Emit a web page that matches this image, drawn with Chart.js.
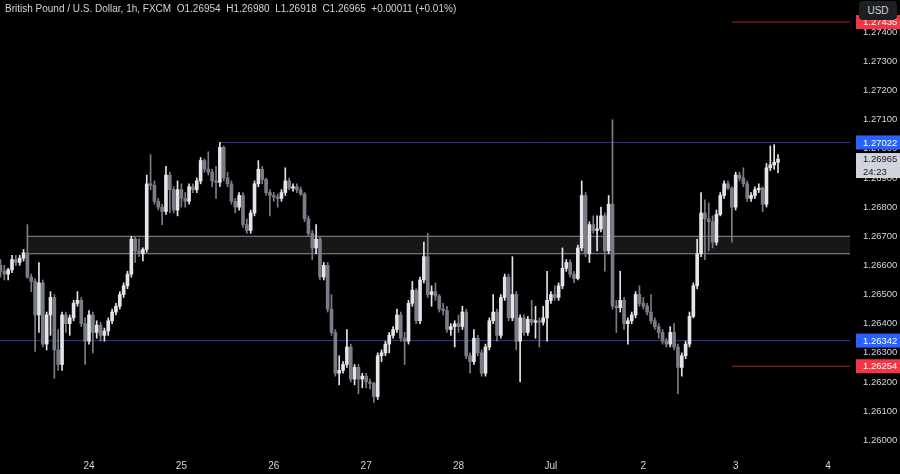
<!DOCTYPE html>
<html>
<head>
<meta charset="utf-8">
<title>British Pound / U.S. Dollar, 1h</title>
<script src="https://cdn.jsdelivr.net/npm/chart.js@4.4.1/dist/chart.umd.min.js"></script>
<style>
  html, body { margin: 0; padding: 0; background: #000; }
  #wrap { position: relative; width: 900px; height: 474px; overflow: hidden; }
  #legend { position: absolute; left: 5px; top: 3px; font: 10px 'Liberation Sans', Arial, sans-serif; color: #d1d4dc; white-space: pre; }
  #currency { position: absolute; left: 859px; top: 1px; width: 38px; height: 19px; border-radius: 4px; background: #1e1f23; color: #d1d4dc; font: 10px 'Liberation Sans', Arial, sans-serif; line-height: 19px; text-align: center; }
</style>
</head>
<body>
<div id="wrap">
  <canvas id="chart" width="900" height="474"></canvas>
  <div id="legend"></div>
  <div id="currency">USD</div>
</div>
<script>
// GBP/USD hourly candles, Jun 21 -> Jul 3 (weekend removed)
// hour 0 = Jun 24 00:00, first bar is hour -23
const firstHour = -23;

// [open, high, low, close]
const candles = [
  [1.2660,1.2662,1.2656,1.2658],[1.2658,1.2660,1.2655,1.2657],[1.2657,1.2659,1.2655,1.26585],[1.26585,1.26635,1.26575,1.2662],
  [1.2662,1.26635,1.2660,1.2661],[1.2661,1.26635,1.2660,1.26625],[1.26625,1.26655,1.26615,1.26643],[1.26643,1.2674,1.26555,1.2656],
  [1.2656,1.2657,1.2651,1.26545],[1.26545,1.26555,1.26305,1.2643],[1.2643,1.2661,1.2637,1.2654],[1.2654,1.2655,1.2632,1.2633],
  [1.2633,1.2644,1.2631,1.2643],[1.2643,1.2651,1.2636,1.2649],[1.2649,1.2650,1.26213,1.2631],[1.2631,1.2638,1.2624,1.2626],
  [1.2626,1.2644,1.2624,1.2643],[1.2643,1.2644,1.2637,1.2640],[1.2640,1.2643,1.2636,1.2642],[1.2642,1.2648,1.2641,1.2647],
  [1.2647,1.2651,1.2646,1.2648],[1.2648,1.2649,1.2639,1.2640],[1.2640,1.2642,1.2626,1.2634],
  // Jun 24
  [1.2634,1.26445,1.2633,1.2643],[1.2643,1.2644,1.2630,1.2637],[1.2637,1.2641,1.2635,1.26395],[1.26395,1.26405,1.2634,1.2636],
  [1.2636,1.26385,1.2634,1.26375],[1.26375,1.2642,1.2636,1.2641],[1.2641,1.2645,1.2640,1.2644],[1.2644,1.2647,1.2643,1.2646],
  [1.2646,1.2651,1.2645,1.2650],[1.2650,1.2654,1.2649,1.2653],[1.2653,1.2658,1.2652,1.2657],[1.2657,1.2670,1.2656,1.2669],
  [1.2669,1.2670,1.2661,1.2665],[1.2665,1.2669,1.2663,1.2664],[1.2664,1.2666,1.26615,1.26655],[1.26655,1.2691,1.26645,1.2688],
  [1.2688,1.2698,1.2686,1.26875],[1.26875,1.2689,1.2681,1.2682],[1.2682,1.2683,1.2679,1.2680],[1.2680,1.2681,1.2674,1.26785],
  [1.26785,1.2694,1.26775,1.2691],[1.2691,1.2692,1.2678,1.2686],[1.2686,1.2687,1.2678,1.2679],[1.2679,1.2689,1.2677,1.2686],
  // Jun 25
  [1.2686,1.2688,1.2680,1.2683],[1.2683,1.2685,1.2680,1.2682],[1.2682,1.2688,1.2681,1.2687],[1.2687,1.2688,1.2685,1.2686],
  [1.2686,1.2690,1.2685,1.2689],[1.2689,1.2697,1.2688,1.2696],[1.2696,1.26965,1.2692,1.2693],[1.2693,1.2699,1.2691,1.2692],
  [1.2692,1.2693,1.2687,1.2689],[1.2689,1.2694,1.2683,1.26885],[1.26885,1.27022,1.2687,1.27005],[1.27005,1.2701,1.2689,1.2690],
  [1.2690,1.2692,1.2687,1.2688],[1.2688,1.2689,1.2681,1.2682],[1.2682,1.2683,1.2678,1.2680],[1.2680,1.2685,1.2679,1.2684],
  [1.2684,1.2685,1.2673,1.2674],[1.2674,1.2676,1.2671,1.2672],[1.2672,1.2679,1.2671,1.2678],[1.2678,1.2689,1.2677,1.2688],
  [1.2688,1.2696,1.2687,1.2693],[1.2693,1.2694,1.2688,1.26895],[1.26895,1.2690,1.2684,1.2685],[1.2685,1.2686,1.2677,1.2684],
  // Jun 26
  [1.2684,1.2685,1.2682,1.26835],[1.26835,1.26845,1.2680,1.2683],[1.2683,1.2686,1.2682,1.2685],[1.2685,1.26935,1.2684,1.2689],
  [1.2689,1.2690,1.2686,1.26865],[1.26865,1.2688,1.26855,1.2687],[1.2687,1.2688,1.2685,1.2686],[1.2686,1.2687,1.2684,1.26845],
  [1.26845,1.2685,1.2675,1.2676],[1.2676,1.2677,1.2670,1.2671],[1.2671,1.2672,1.2662,1.2666],[1.2666,1.2674,1.2664,1.2669],
  [1.2669,1.2670,1.2655,1.2656],[1.2656,1.2661,1.2655,1.2660],[1.2660,1.2661,1.2644,1.2645],[1.2645,1.2650,1.2636,1.2637],
  [1.2637,1.2638,1.2622,1.2623],[1.2623,1.2629,1.2619,1.2624],[1.2624,1.2627,1.2623,1.2626],[1.2626,1.2638,1.2625,1.2632],
  [1.2632,1.2633,1.2620,1.2621],[1.2621,1.2626,1.2619,1.2625],[1.2625,1.2626,1.2616,1.2621],[1.2621,1.2623,1.2618,1.2622],
  // Jun 27
  [1.2622,1.2623,1.2618,1.2620],[1.2620,1.2621,1.26175,1.26195],[1.26195,1.2620,1.2613,1.2615],[1.2615,1.2630,1.2614,1.2629],
  [1.2629,1.2631,1.2627,1.2630],[1.2630,1.2634,1.2629,1.2633],[1.2633,1.2637,1.2630,1.2636],[1.2636,1.2639,1.2635,1.2638],
  [1.2638,1.2645,1.2637,1.2643],[1.2643,1.2644,1.2634,1.2635],[1.2635,1.2637,1.2626,1.2634],[1.2634,1.2648,1.2633,1.2647],
  [1.2647,1.26545,1.2646,1.26515],[1.26515,1.2652,1.2640,1.2641],[1.2641,1.2656,1.2640,1.2655],[1.2655,1.2668,1.2654,1.2663],
  [1.2663,1.2671,1.2649,1.2650],[1.2650,1.2653,1.2646,1.2651],[1.2651,1.2654,1.2648,1.26495],[1.26495,1.2650,1.2644,1.2645],
  [1.2645,1.2647,1.2643,1.26445],[1.26445,1.2646,1.2637,1.2638],[1.2638,1.2640,1.2636,1.2639],[1.2639,1.2641,1.2632,1.2640],
  // Jun 28
  [1.2640,1.2643,1.2637,1.2639],[1.2639,1.2646,1.2638,1.2644],[1.2644,1.2645,1.2628,1.2629],[1.2629,1.2630,1.2623,1.2627],
  [1.2627,1.2638,1.2626,1.2635],[1.2635,1.2636,1.2629,1.2630],[1.2630,1.2631,1.2622,1.2623],[1.2623,1.2633,1.2622,1.2632],
  [1.2632,1.2642,1.2631,1.2641],[1.2641,1.2650,1.2640,1.2644],[1.2644,1.2645,1.2634,1.2636],[1.2636,1.2650,1.2635,1.2649],
  [1.2649,1.2657,1.2648,1.2656],[1.2656,1.2657,1.2641,1.2642],[1.2642,1.2663,1.2641,1.2650],[1.2650,1.2651,1.2631,1.2634],
  [1.2634,1.2643,1.2620,1.2642],[1.2642,1.2643,1.2636,1.2637],[1.2637,1.26425,1.2636,1.26415],[1.26415,1.2648,1.26395,1.26405],
  [1.26405,1.2646,1.2635,1.2641],[1.2641,1.2642,1.2632,1.26405],[1.26405,1.2646,1.26395,1.2642],[1.2642,1.2658,1.2634,1.2648],
  // Jul 1
  [1.2648,1.2651,1.2647,1.2650],[1.2650,1.2653,1.2648,1.2649],[1.2649,1.2654,1.2648,1.2653],[1.2653,1.2666,1.2652,1.2659],
  [1.2659,1.2662,1.2658,1.2661],[1.2661,1.2662,1.2656,1.2657],[1.2657,1.2658,1.2654,1.26555],[1.26555,1.2667,1.2655,1.2666],
  [1.2666,1.2689,1.2665,1.2684],[1.2684,1.2685,1.2663,1.2664],[1.2664,1.2675,1.2661,1.2674],[1.2674,1.2677,1.2671,1.2672],
  [1.2672,1.2677,1.2665,1.26725],[1.26725,1.2680,1.26715,1.2677],[1.2677,1.2678,1.2658,1.2665],[1.2665,1.2684,1.2664,1.2681],
  [1.2681,1.2710,1.2645,1.2646],[1.2646,1.2648,1.2637,1.26455],[1.26455,1.2658,1.2644,1.2648],[1.2648,1.2649,1.2638,1.2640],
  [1.2640,1.2642,1.2633,1.2641],[1.2641,1.2644,1.2640,1.2643],[1.2643,1.2651,1.2642,1.2650],[1.2650,1.2653,1.2646,1.2647],
  // Jul 2
  [1.2647,1.2649,1.2645,1.2646],[1.2646,1.2647,1.2643,1.2644],[1.2644,1.2650,1.2640,1.2641],[1.2641,1.2642,1.2638,1.2639],
  [1.2639,1.2640,1.2635,1.2637],[1.2637,1.2638,1.2633,1.2634],[1.2634,1.2635,1.2632,1.2633],[1.2633,1.2639,1.2632,1.2637],
  [1.2637,1.2640,1.2631,1.2632],[1.2632,1.2633,1.2616,1.2625],[1.2625,1.2630,1.2622,1.2629],[1.2629,1.2634,1.2628,1.2633],
  [1.2633,1.2644,1.2632,1.26425],[1.26425,1.2654,1.2642,1.2653],[1.2653,1.2669,1.2652,1.2664],[1.2664,1.2685,1.2663,1.2678],
  [1.2678,1.26825,1.2662,1.2676],[1.2676,1.26815,1.2665,1.2675],[1.2675,1.2677,1.2666,1.2668],[1.2668,1.2679,1.2667,1.26775],
  [1.26775,1.2685,1.2677,1.2684],[1.2684,1.2689,1.2683,1.2688],[1.2688,1.2689,1.2686,1.26865],[1.26865,1.2687,1.2668,1.2680],
  // Jul 3
  [1.2680,1.2692,1.2679,1.2691],[1.2691,1.2692,1.2689,1.2690],[1.2690,1.26935,1.2687,1.2688],[1.2688,1.2689,1.2682,1.2683],
  [1.2683,1.2685,1.2682,1.2684],[1.2684,1.2687,1.2683,1.2686],[1.2686,1.2688,1.2685,1.26865],[1.26865,1.2687,1.26785,1.2681],
  [1.2681,1.2695,1.2680,1.26935],[1.26935,1.2701,1.26925,1.26945],[1.26945,1.27015,1.2693,1.26954],[1.26954,1.26980,1.26918,1.26965]
];

// time axis: day starts (hours from Jun 24 00:00) and their labels
const dayHours = [0, 24, 48, 72, 96, 120, 144, 168, 192];
const dayLabels = ['24', '25', '26', '27', '28', 'Jul', '2', '3', '4'];

// price axis ticks
const priceTicks = [1.260, 1.261, 1.262, 1.263, 1.264, 1.265, 1.266, 1.267, 1.268, 1.269, 1.270, 1.271, 1.272, 1.273, 1.274];

// drawn levels: blue support/resistance, red targets, grey zone
const blueLevels = [1.27022, 1.26342];
const blueStarts = [34, -23.2];
const redLevels = [1.27435, 1.26254];
const redStarts = [167, 167];
const zone = [1.26640, 1.26700];
const zoneStart = -16;

const countdown = '24:23';

// visible window
const xMin = -23.12, xMax = 197.7;
const yMin = 1.259803, yMax = 1.275108;

const font = "'Liberation Sans', Arial, sans-serif";
const textColor = '#d1d4dc';
const bullColor = '#e4e5e9';
const bearColor = '#7a7d87';
const blueLine = '#2f3c9a';
const redLine = '#a3262c';

const hours = candles.map((c, i) => firstHour + i);
const candleColor = c => (c[3] >= c[0] ? bullColor : bearColor);

function levelLine(value, start, color) {
    return {
        type: 'line',
        data: [{ x: start, y: value }, { x: xMax, y: value }],
        borderColor: color,
        borderWidth: 1,
        pointRadius: 0,
        fill: false,
        order: 5
    };
}

// price tags on the right axis
const axisTags = {
    id: 'axisTags',
    afterDraw(chart) {
        const c = chart.ctx;
        const y = chart.scales.y;
        const left = chart.chartArea.right + 6;
        c.save();
        c.font = '9.5px ' + font;
        c.textBaseline = 'middle';
        c.textAlign = 'left';

        const tag = (value, bg, fg) => {
            const py = y.getPixelForValue(value);
            c.fillStyle = bg;
            c.fillRect(left, py - 7, 900 - left, 14);
            c.fillStyle = fg;
            c.fillText(value.toFixed(5), left + 7, py + 0.5);
        };
        redLevels.forEach(v => tag(v, '#f23645', '#ffffff'));
        blueLevels.forEach(v => tag(v, '#2962ff', '#ffffff'));

        // last price with bar countdown
        const last = candles[candles.length - 1][3];
        const py = y.getPixelForValue(last);
        c.fillStyle = '#d1d4dc';
        c.fillRect(left, py - 6, 900 - left, 25);
        c.fillStyle = '#131722';
        c.fillText(last.toFixed(5), left + 7, py + 0.5);
        c.fillText(countdown, left + 7, py + 13);
        c.restore();
    }
};

// header line from the last bar
const lastBar = candles[candles.length - 1];
const prevClose = candles[candles.length - 2][3];
const change = lastBar[3] - prevClose;
document.getElementById('legend').textContent =
    'British Pound / U.S. Dollar, 1h, FXCM  O' + lastBar[0].toFixed(5) +
    '  H' + lastBar[1].toFixed(5) + '  L' + lastBar[2].toFixed(5) +
    '  C' + lastBar[3].toFixed(5) + '  ' + (change >= 0 ? '+' : '') + change.toFixed(5) +
    ' (' + (change >= 0 ? '+' : '') + (change / prevClose * 100).toFixed(2) + '%)';

const ctx = document.getElementById('chart').getContext('2d');
new Chart(ctx, {
    type: 'bar',
    data: {
        datasets: [
            {
                label: 'wicks',
                data: candles.map((c, i) => ({ x: hours[i], y: [c[2], c[1]] })),
                backgroundColor: candles.map(candleColor),
                barThickness: 1,
                grouped: false,
                order: 1
            },
            {
                label: 'bodies',
                data: candles.map((c, i) => ({ x: hours[i], y: [c[0], c[3]] })),
                backgroundColor: candles.map(candleColor),
                barThickness: 3,
                minBarLength: 1,
                grouped: false,
                order: 0
            },
            {
                type: 'line',
                data: [{ x: zoneStart, y: zone[1] }, { x: xMax, y: zone[1] }],
                borderColor: '#8f9094',
                borderWidth: 1,
                pointRadius: 0,
                fill: false,
                order: 10
            },
            {
                type: 'line',
                data: [{ x: zoneStart, y: zone[0] }, { x: xMax, y: zone[0] }],
                borderColor: '#8f9094',
                borderWidth: 1,
                pointRadius: 0,
                backgroundColor: 'rgba(255,255,255,0.09)',
                fill: '-1',
                order: 10
            },
            levelLine(blueLevels[0], blueStarts[0], blueLine),
            levelLine(blueLevels[1], blueStarts[1], blueLine),
            levelLine(redLevels[0], redStarts[0], redLine),
            levelLine(redLevels[1], redStarts[1], redLine)
        ]
    },
    options: {
        responsive: false,
        animation: false,
        devicePixelRatio: 1,
        layout: { padding: 0 },
        plugins: {
            legend: { display: false },
            tooltip: { enabled: false }
        },
        scales: {
            x: {
                type: 'linear',
                min: xMin,
                max: xMax,
                offset: false,
                grid: { display: false, drawTicks: false },
                border: { display: false },
                afterBuildTicks: axis => { axis.ticks = dayHours.map(v => ({ value: v })); },
                afterFit: axis => {
                    axis.height = 28;
                    axis.paddingLeft = 0;
                    axis.paddingRight = 0;
                },
                ticks: {
                    autoSkip: false,
                    maxRotation: 0,
                    padding: 14,
                    color: textColor,
                    font: { family: font, size: 10 },
                    callback: v => dayLabels[dayHours.indexOf(v)] || ''
                }
            },
            y: {
                type: 'linear',
                position: 'right',
                min: yMin,
                max: yMax,
                grid: { display: false, drawTicks: false },
                border: { display: false },
                afterBuildTicks: axis => { axis.ticks = priceTicks.map(v => ({ value: v })); },
                afterFit: axis => {
                    axis.width = 50;
                    axis.paddingTop = 0;
                    axis.paddingBottom = 0;
                },
                ticks: {
                    padding: 13,
                    color: textColor,
                    font: { family: font, size: 9.5 },
                    callback: v => v.toFixed(5)
                }
            }
        }
    },
    plugins: [axisTags]
});
</script>
</body>
</html>
